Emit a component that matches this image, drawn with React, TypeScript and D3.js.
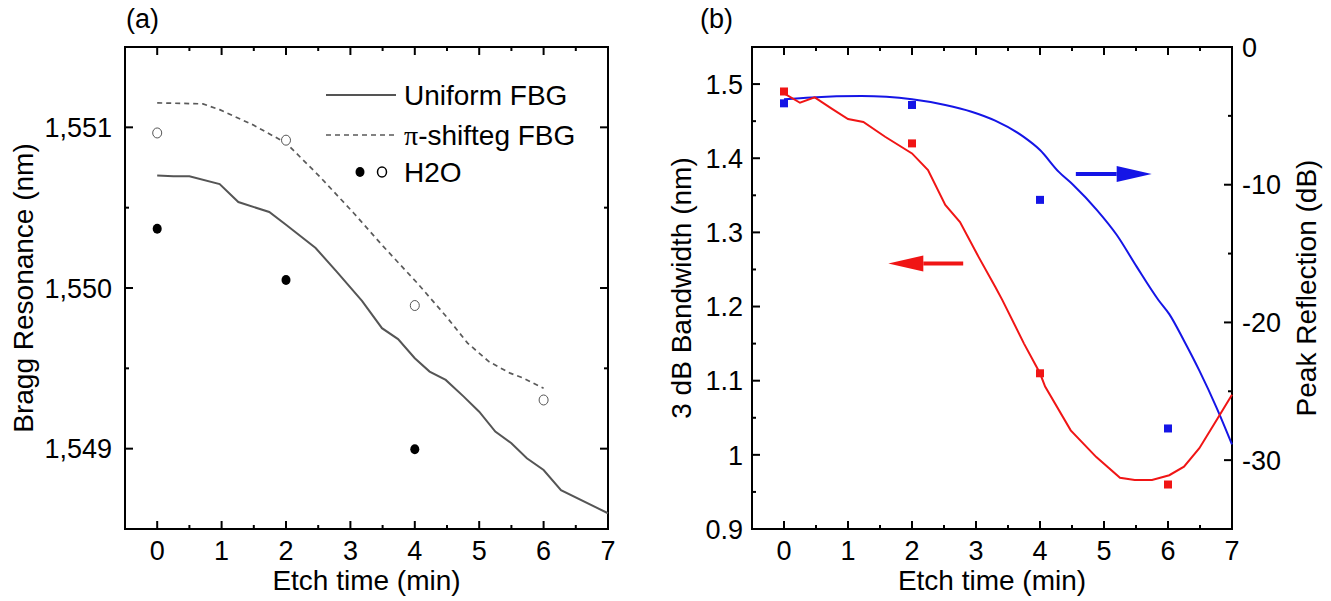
import React from 'react';
import * as d3 from 'd3';

// ---- panel (a): Bragg resonance vs etch time ----
const uniformT = [0, 0.25, 0.5, 0.97, 1.26, 1.74, 2.0, 2.46, 2.79, 3.18, 3.49, 3.74, 4.0, 4.23, 4.48, 4.76, 5.0, 5.25, 5.5, 5.74, 6.0, 6.27, 7.0];
const uniformNm = [1550.70, 1550.695, 1550.695, 1550.647, 1550.535, 1550.473, 1550.394, 1550.249, 1550.10, 1549.92, 1549.75, 1549.682, 1549.563, 1549.48, 1549.428, 1549.324, 1549.23, 1549.106, 1549.034, 1548.94, 1548.867, 1548.742, 1548.598];

const piT = [0, 0.25, 0.71, 0.97, 1.48, 2.0, 2.52, 3.05, 3.51, 4.04, 4.49, 4.82, 5.15, 5.48, 5.68, 6.0];
const piNm = [1551.152, 1551.15, 1551.146, 1551.11, 1551.017, 1550.903, 1550.695, 1550.467, 1550.259, 1550.03, 1549.822, 1549.657, 1549.542, 1549.47, 1549.44, 1549.376];

const openT = [0, 2, 4, 6];
const openNm = [1550.965, 1550.92, 1549.891, 1549.303];
const filledT = [0, 2, 4];
const filledNm = [1550.369, 1550.05, 1548.996];

const yTicksA = [1549, 1550, 1551];
const yMinorA = [1549.5, 1550.5];

// ---- panel (b): bandwidth & reflection ----
const redT = [0, 0.25, 0.48, 0.745, 1.0, 1.24, 1.58, 2.0, 2.25, 2.52, 2.75, 3.04, 3.3, 3.41, 3.75, 4.0, 4.08, 4.48, 4.88, 5.25, 5.48, 5.75, 6.02, 6.25, 6.49, 6.76, 7.0];
const redBw = [1.4875, 1.4748, 1.482, 1.467, 1.4528, 1.449, 1.429, 1.4065, 1.384, 1.337, 1.314, 1.267, 1.2266, 1.209, 1.15, 1.11, 1.092, 1.033, 0.997, 0.969, 0.966, 0.966, 0.9725, 0.984, 1.009, 1.047, 1.081];

const blueT = [0, 0.43, 1.21, 2.0, 2.52, 2.93, 3.3, 3.74, 4.0, 4.29, 4.52, 4.89, 5.2, 5.51, 5.85, 6.02, 6.25, 6.49, 6.76, 7.0];
const blueDb = [-3.8, -3.66, -3.56, -3.8, -4.21, -4.7, -5.35, -6.51, -7.48, -9.05, -10.02, -11.84, -13.65, -15.95, -18.37, -19.4, -21.33, -23.5, -26.2, -28.86];

const sqT = [0, 2, 4, 6];
const sqBw = [1.49, 1.42, 1.11, 0.96];
const sqDb = [-4.09, -4.21, -11.1, -27.7];

const yTicksB = [0.9, 1.0, 1.1, 1.2, 1.3, 1.4, 1.5];
const yTickLabelsB = ['0.9', '1', '1.1', '1.2', '1.3', '1.4', '1.5'];
const yMinorB = [0.95, 1.05, 1.15, 1.25, 1.35, 1.45];
const yTicksR = [0, -10, -20, -30];
const yMinorR = [-5, -15, -25];

const xTicks = [0, 1, 2, 3, 4, 5, 6, 7];
const xMinor = [0.5, 1.5, 2.5, 3.5, 4.5, 5.5, 6.5];

// arrows in data units: [tailT, tipT, value]
const redArrow = [2.8, 1.63, 1.258];
const blueArrow = [4.56, 5.745, -9.22];

const FONT = '"Liberation Sans", Arial, Helvetica, sans-serif';
const TOP = 47;
const BOTTOM = 529;
const MAJ = 8;
const MIN = 4;

const zip = (a: number[], b: number[]) => a.map((v, i) => [v, b[i]] as [number, number]);

function Frame({ x, y, yTicks, yLabels, yMinor, yRight, yRightLabels, yRightMinor, labelGap }: any) {
  const [x0, x1] = x.range();
  const yR = yRight || y;
  const rTicks = yRight ? yRightLabels.map((d: any) => d[0]) : yTicks;
  const rMinor = yRight ? yRightMinor : yMinor;
  return (
    <g>
      <rect x={x0} y={TOP} width={x1 - x0} height={BOTTOM - TOP} fill="none" stroke="#000" strokeWidth={2} />
      {xTicks.map(t => (
        <g key={'xt' + t}>
          <line x1={x(t)} x2={x(t)} y1={BOTTOM} y2={BOTTOM - MAJ} stroke="#000" strokeWidth={2} />
          <line x1={x(t)} x2={x(t)} y1={TOP} y2={TOP + MAJ} stroke="#000" strokeWidth={2} />
          <text x={x(t)} y={560} textAnchor="middle" fontSize={27}>{t}</text>
        </g>
      ))}
      {xMinor.map(t => (
        <g key={'xm' + t}>
          <line x1={x(t)} x2={x(t)} y1={BOTTOM} y2={BOTTOM - MIN} stroke="#000" strokeWidth={2} />
          <line x1={x(t)} x2={x(t)} y1={TOP} y2={TOP + MIN} stroke="#000" strokeWidth={2} />
        </g>
      ))}
      {yTicks.map((v: number, i: number) => (
        <g key={'yt' + v}>
          <line x1={x0} x2={x0 + MAJ} y1={y(v)} y2={y(v)} stroke="#000" strokeWidth={2} />
          <text x={x0 - labelGap} y={y(v)} dy="0.36em" textAnchor="end" fontSize={27}>{yLabels[i]}</text>
        </g>
      ))}
      {yMinor.map((v: number) => (
        <line key={'ym' + v} x1={x0} x2={x0 + MIN} y1={y(v)} y2={y(v)} stroke="#000" strokeWidth={2} />
      ))}
      {rTicks.map((v: number) => (
        <line key={'rt' + v} x1={x1} x2={x1 - MAJ} y1={yR(v)} y2={yR(v)} stroke="#000" strokeWidth={2} />
      ))}
      {rMinor.map((v: number) => (
        <line key={'rm' + v} x1={x1} x2={x1 - MIN} y1={yR(v)} y2={yR(v)} stroke="#000" strokeWidth={2} />
      ))}
      {yRight && yRightLabels.map((d: any) => (
        <text key={'rl' + d[0]} x={x1 + 10} y={yR(d[0])} dy="0.36em" textAnchor="start" fontSize={27}>{d[1]}</text>
      ))}
    </g>
  );
}

function Arrow({ x1, x2, y, color }: { x1: number; x2: number; y: number; color: string }) {
  const dir = Math.sign(x2 - x1);
  const headLen = 35;
  const base = x2 - dir * headLen;
  return (
    <g>
      <line x1={x1} x2={base} y1={y} y2={y} stroke={color} strokeWidth={4} />
      <path d={`M${x2},${y} L${base},${y - 8} L${base},${y + 8} Z`} fill={color} />
    </g>
  );
}

export default function App() {
  // panel (a)
  const xa = d3.scaleLinear().domain([-0.5, 7]).range([125, 608]);
  const ya = d3.scaleLinear().domain([1548.5, 1551.5]).range([BOTTOM, TOP]);
  const lineA = d3.line<[number, number]>().x(d => xa(d[0])).y(d => ya(d[1]));

  // panel (b)
  const xb = d3.scaleLinear().domain([-0.5, 7]).range([752, 1232]);
  const yb = d3.scaleLinear().domain([0.9, 1.55]).range([BOTTOM, TOP]);
  const yr = d3.scaleLinear().domain([-35, 0]).range([BOTTOM, TOP]);
  const lineRed = d3.line<[number, number]>().x(d => xb(d[0])).y(d => yb(d[1]));
  const lineBlue = d3.line<[number, number]>().x(d => xb(d[0])).y(d => yr(d[1])).curve(d3.curveMonotoneX);

  const red = '#f01515';
  const blue = '#1515e6';

  return (
    <svg width={1331} height={601} style={{ position: 'absolute', left: 0, top: 0, background: '#fff' }} fontFamily={FONT}>
      <rect width={1331} height={601} fill="#fff" />

      {/* ---------- (a) ---------- */}
      <text x={126} y={28} fontSize={27}>(a)</text>
      <Frame x={xa} y={ya} yTicks={yTicksA} yLabels={yTicksA.map(v => d3.format(',')(v))} yMinor={yMinorA} labelGap={13} />
      <path d={lineA(zip(uniformT, uniformNm)) || ''} fill="none" stroke="#555" strokeWidth={2} />
      <path d={lineA(zip(piT, piNm)) || ''} fill="none" stroke="#5a5a5a" strokeWidth={1.7} strokeDasharray="5,4" />
      {openT.map((t, i) => (
        <ellipse key={'o' + t} cx={xa(t)} cy={ya(openNm[i])} rx={4.5} ry={5} fill="#fff" stroke="#555" strokeWidth={1} />
      ))}
      {filledT.map((t, i) => (
        <ellipse key={'f' + t} cx={xa(t)} cy={ya(filledNm[i])} rx={4.5} ry={5} fill="#000" />
      ))}
      {/* legend */}
      <line x1={326} x2={396} y1={95} y2={95} stroke="#555" strokeWidth={2} />
      <text x={404} y={105} fontSize={28}>Uniform FBG</text>
      <line x1={326} x2={396} y1={135} y2={135} stroke="#5a5a5a" strokeWidth={1.7} strokeDasharray="5,4" />
      <text x={404} y={145} fontSize={28}><tspan fontFamily='"Liberation Serif", "Times New Roman", serif'>π</tspan>-shifteg FBG</text>
      <ellipse cx={360} cy={172} rx={4.5} ry={5} fill="#000" />
      <ellipse cx={382} cy={172} rx={4.5} ry={5} fill="#fff" stroke="#000" strokeWidth={1.5} />
      <text x={404} y={182} fontSize={28}>H2O</text>
      <text x={(125 + 608) / 2} y={590} textAnchor="middle" fontSize={28}>Etch time (min)</text>
      <text transform={`translate(33,${(TOP + BOTTOM) / 2}) rotate(-90)`} textAnchor="middle" fontSize={28}>Bragg Resonance (nm)</text>

      {/* ---------- (b) ---------- */}
      <text x={700} y={28} fontSize={27}>(b)</text>
      <Frame x={xb} y={yb} yTicks={yTicksB} yLabels={yTickLabelsB} yMinor={yMinorB}
        yRight={yr} yRightLabels={yTicksR.map(v => [v, String(v)])} yRightMinor={yMinorR} labelGap={9} />
      <path d={lineBlue(zip(blueT, blueDb)) || ''} fill="none" stroke={blue} strokeWidth={2} />
      <path d={lineRed(zip(redT, redBw)) || ''} fill="none" stroke={red} strokeWidth={2} />
      {sqT.map((t, i) => (
        <rect key={'rs' + t} x={xb(t) - 4} y={yb(sqBw[i]) - 4} width={8} height={8} fill={red} />
      ))}
      {sqT.map((t, i) => (
        <rect key={'bs' + t} x={xb(t) - 4} y={yr(sqDb[i]) - 4} width={8} height={8} fill={blue} />
      ))}
      <Arrow x1={xb(redArrow[0])} x2={xb(redArrow[1])} y={yb(redArrow[2])} color={red} />
      <Arrow x1={xb(blueArrow[0])} x2={xb(blueArrow[1])} y={yr(blueArrow[2])} color={blue} />
      <text x={(752 + 1232) / 2} y={590} textAnchor="middle" fontSize={28}>Etch time (min)</text>
      <text transform={`translate(691,${(TOP + BOTTOM) / 2}) rotate(-90)`} textAnchor="middle" fontSize={28}>3 dB Bandwidth (nm)</text>
      <text transform={`translate(1316,${(TOP + BOTTOM) / 2}) rotate(-90)`} textAnchor="middle" fontSize={28}>Peak Reflection (dB)</text>
    </svg>
  );
}
